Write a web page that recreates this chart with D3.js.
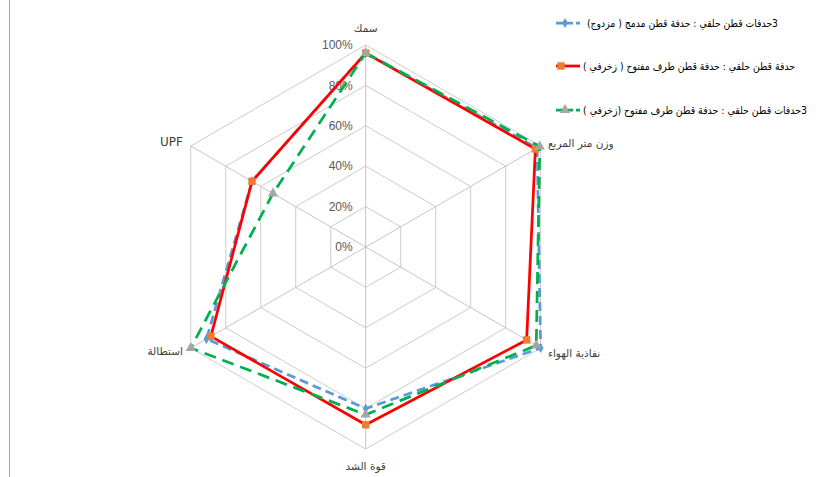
<!DOCTYPE html>
<html>
<head>
<meta charset="utf-8">
<script src="https://cdn.jsdelivr.net/npm/d3@7"></script>
<style>
  html, body { margin: 0; padding: 0; background: #fff; }
  svg { display: block; }
</style>
</head>
<body>
<svg id="chart" width="826" height="477"></svg>
<script>
// Axes of the radar, clockwise from the top
const axes = ["سمك", "وزن متر المربع", "نفاذية الهواء", "قوة الشد", "استطالة", "UPF"];
const tickValues = [0, 20, 40, 60, 80, 100];

const seriesNames = [
  "3حدفات قطن حلقي : حدفة قطن مدمج ( مزدوج)",
  "حدفة قطن حلقي : حدفة قطن طرف مفتوح ( زخرفي )",
  "3حدفات قطن حلقي : حدفة قطن طرف مفتوح (زخرفي )"
];
const mergedValues   = [96, 98, 100, 80, 91, 65];
const openEndValues  = [96, 97, 92, 88, 88.5, 65];
const triple3Values  = [96, 99.5, 97.5, 83, 100, 53];

const styles = [
  { line: "#5B9BD5", marker: "#5B9BD5", dash: "9,5", shape: d3.symbolDiamond, size: 30 },
  { line: "#FF0000", marker: "#ED7D31", dash: null,  shape: d3.symbolSquare,  size: 55 },
  { line: "#00B050", marker: "#A5A5A5", dash: "12,7", shape: d3.symbolTriangle, size: 45 }
];
const allValues = [mergedValues, openEndValues, triple3Values];

const svg = d3.select("#chart");
const cx = 365.7, cy = 247, R = 202;

const r = d3.scaleLinear().domain([0, 100]).range([0, R]);
const angle = d3.scalePoint().domain(d3.range(axes.length)).range([0, 2 * Math.PI * (axes.length - 1) / axes.length]);
const pt = (i, v) => [cx + r(v) * Math.sin(angle(i)), cy - r(v) * Math.cos(angle(i))];

// thin frame line on the left edge
svg.append("line").attr("x1", 9.5).attr("x2", 9.5).attr("y1", 0).attr("y2", 477)
  .attr("stroke", "#a6a6a6").attr("stroke-width", 1);

const grid = svg.append("g");
// concentric hexagons
tickValues.filter(t => t > 0).forEach(t => {
  grid.append("polygon")
    .attr("points", axes.map((_, i) => pt(i, t).join(",")).join(" "))
    .attr("fill", "none").attr("stroke", "#cccccc").attr("stroke-width", 1);
});
// spokes
axes.forEach((_, i) => {
  const [x, y] = pt(i, 100);
  grid.append("line").attr("x1", cx).attr("y1", cy).attr("x2", x).attr("y2", y)
    .attr("stroke", "#c4c4c4").attr("stroke-width", 1);
});

// percentage ticks along the top spoke
const fmt = d => d + "%";
svg.append("g").selectAll("text").data(tickValues).join("text")
  .attr("x", cx - 13)
  .attr("y", d => cy - r(d))
  .attr("dy", "0.35em")
  .attr("text-anchor", "end")
  .attr("font-family", "Liberation Sans, Arial, sans-serif")
  .attr("font-size", 12)
  .attr("fill", "#595959")
  .text(fmt);

// axis captions
const labelPos = [
  { x: cx, y: 28, anchor: "middle" },
  { x: 548, y: 143, anchor: "start" },
  { x: 548, y: 353, anchor: "start" },
  { x: cx, y: 466, anchor: "middle" },
  { x: 183, y: 351, anchor: "end" },
  { x: 183, y: 142, anchor: "end" }
];
svg.append("g").selectAll("text").data(axes).join("text")
  .attr("x", (d, i) => labelPos[i].x)
  .attr("y", (d, i) => labelPos[i].y)
  .attr("dy", "0.35em")
  .attr("text-anchor", (d, i) => labelPos[i].anchor)
  .attr("font-family", "DejaVu Sans, Liberation Sans, sans-serif")
  .attr("font-size", (d, i) => i === 5 ? 12 : 10.5)
  .attr("fill", "#404040")
  .text(d => d);

// series
const lineGen = d3.lineRadial()
  .angle((d, i) => angle(i))
  .radius(d => r(d))
  .curve(d3.curveLinearClosed);

allValues.forEach((vals, s) => {
  const st = styles[s];
  const g = svg.append("g").attr("transform", `translate(${cx},${cy})`);
  g.append("path").datum(vals)
    .attr("d", lineGen)
    .attr("fill", "none")
    .attr("stroke", st.line)
    .attr("stroke-width", 2.75)
    .attr("stroke-dasharray", st.dash)
    .attr("stroke-linejoin", "round");
  svg.append("g").selectAll("path").data(vals).join("path")
    .attr("transform", (d, i) => `translate(${pt(i, d).join(",")})`)
    .attr("d", d3.symbol().type(st.shape).size(st.size))
    .attr("fill", st.marker);
});

// legend: sample line + marker on the left, right-to-left caption ending at textRight
const legendY = [23, 66, 110];
const legendTextRight = [778, 795, 807];
const legendTextLeft = [587, 583, 583];
const legend = svg.append("g");
seriesNames.forEach((name, s) => {
  const st = styles[s];
  const y = legendY[s];
  legend.append("line")
    .attr("x1", 556).attr("x2", 580).attr("y1", y).attr("y2", y)
    .attr("stroke", st.line).attr("stroke-width", 2.75)
    .attr("stroke-dasharray", st.dash ? "7,3" : null);
  legend.append("path")
    .attr("transform", `translate(${s === 1 ? 561 : 565},${y})`)
    .attr("d", d3.symbol().type(st.shape).size(st.size))
    .attr("fill", st.marker);
  legend.append("text")
    .attr("x", legendTextRight[s]).attr("y", y).attr("dy", "0.35em")
    .attr("text-anchor", "start")
    .attr("direction", "rtl")
    .attr("font-family", "DejaVu Sans, Liberation Sans, sans-serif")
    .attr("font-size", 10.5)
    .attr("textLength", legendTextRight[s] - legendTextLeft[s])
    .attr("lengthAdjust", "spacingAndGlyphs")
    .attr("fill", "#000")
    .text(name);
});
</script>
</body>
</html>
